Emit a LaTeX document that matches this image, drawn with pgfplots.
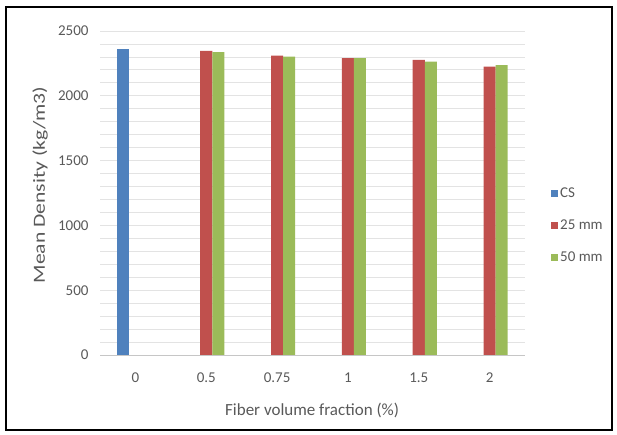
\documentclass[border=0pt]{standalone}
\usepackage{fontspec}
\setmainfont{Carlito}
\usepackage{pgfplots}
\pgfplotsset{compat=1.18}
\definecolor{csblue}{HTML}{4F81BD}
\definecolor{redbar}{HTML}{C0504D}
\definecolor{greenbar}{HTML}{9BBB59}
\definecolor{txt}{HTML}{595959}
\definecolor{gridc}{HTML}{E3E3E3}
\begin{document}
\begin{tikzpicture}
\path[use as bounding box] (0pt,0pt) rectangle (617pt,435pt);
\draw[black, line width=1.2pt] (6pt,5pt) rectangle (612pt,428pt);
\begin{axis}[
  at={(100pt,80pt)}, anchor=south west, scale only axis,
  width=425pt, height=324pt,
  xmin=-0.5, xmax=5.5, ymin=0, ymax=2500,
  xtick={0,1,2,3,4,5}, xticklabels={0,0.5,0.75,1,1.5,2},
  ytick={0,500,...,2500}, minor ytick={100,200,...,2400},
  /pgf/number format/1000 sep={},
  /pgf/number format/assume math mode=true,
  ymajorgrids, yminorgrids,
  major grid style={draw=gridc, line width=0.8pt},
  minor grid style={draw=gridc, line width=0.8pt},
  axis x line*=bottom, axis y line*=left,
  x axis line style={draw=gray!45, line width=0.8pt},
  y axis line style={draw=none},
  major tick length=0pt, minor tick length=0pt,
  tick style={draw=none},
  ticklabel style={font=\fontsize{15}{17}\selectfont, text=txt},
  yticklabel style={xshift=-8pt},
  xticklabel style={yshift=-14pt},
  xlabel={Fiber volume fraction (\%)},
  xlabel style={font=\fontsize{17}{19}\selectfont, text=txt, at={(axis description cs:0.499,-0.170)}, anchor=center},
  ylabel={\scalebox{1.27}[1]{Mean Density (kg/m3)}},
  ylabel style={font=\fontsize{17}{19}\selectfont, text=txt, at={(axis description cs:-0.141,0.525)}, anchor=center},
  ybar, bar width=0.17,
  legend style={at={(1.054,0.40)}, anchor=west, draw=none, fill=none,
    font=\fontsize{15}{17}\selectfont, text=txt, row sep=17pt},
  legend cell align=left,
  legend image code/.code={\fill[#1] (0pt,-3.5pt) rectangle (7pt,3.5pt);},
]
\addplot[fill=csblue, draw=none, bar shift=-0.17] coordinates {(0,2362)};
\addlegendentry{CS}
\addplot[fill=redbar, draw=none, bar shift=0] coordinates {(1,2347) (2,2310) (3,2291) (4,2277) (5,2226)};
\addlegendentry{25 mm}
\addplot[fill=greenbar, draw=none, bar shift=0.17] coordinates {(1,2337) (2,2302) (3,2291) (4,2263) (5,2237)};
\addlegendentry{50 mm}
\end{axis}
\end{tikzpicture}
\end{document}
